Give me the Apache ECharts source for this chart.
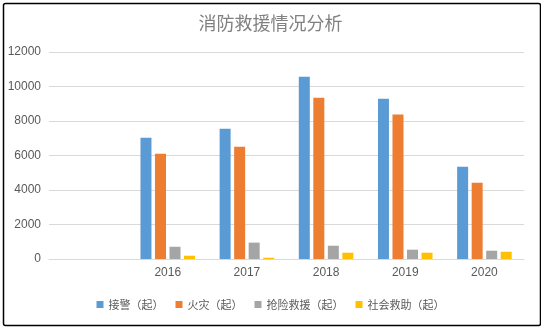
<!DOCTYPE html>
<html><head><meta charset="utf-8">
<script src="https://cdn.jsdelivr.net/npm/echarts@6/dist/echarts.min.js"></script>
<style>html,body{margin:0;padding:0;background:#fff}#c{width:541px;height:327px}</style>
</head><body><div id="c"></div>
<script>
const categories = ['', '2016', '2017', '2018', '2019', '2020'];
const seriesNames = ['接警（起）', '火灾（起）', '抢险救援（起）', '社会救助（起）'];
const alarms = [null, 7030, 7550, 10570, 9290, 5350];
const fires = [null, 6100, 6510, 9350, 8370, 4420];
const rescues = [null, 710, 950, 770, 540, 480];
const socialAid = [null, 190, 75, 365, 365, 420];
const yTicks = [0, 2000, 4000, 6000, 8000, 10000, 12000];
const colors = ['#5b9bd5', '#ed7d31', '#a5a5a5', '#ffc000'];

const chart = echarts.init(document.getElementById('c'), null, {renderer: 'canvas'});
const font = '"Noto Sans CJK SC", "Noto Sans", sans-serif';
const vals = [alarms, fires, rescues, socialAid];
chart.setOption({
  animation: false,
  textStyle: {fontFamily: font},
  title: {
    text: '消防救援情况分析', left: 'center', top: 9,
    textStyle: {color: '#808080', fontSize: 18, fontWeight: 'normal', fontFamily: font}
  },
  graphic: [{
    type: 'rect', left: 1, top: 1, silent: true,
    shape: {width: 537, height: 322, r: 2},
    style: {fill: 'none', stroke: '#000', lineWidth: 1.5}
  }],
  legend: {
    bottom: 12, left: 'center', itemWidth: 7, itemHeight: 7, itemGap: 12,
    icon: 'rect',
    textStyle: {color: '#595959', fontSize: 11, fontFamily: font, padding: [0, 0, 0, 0]},
    data: seriesNames
  },
  grid: {left: 49, right: 17, top: 52, bottom: 68, containLabel: false},
  xAxis: {
    type: 'category', data: categories,
    axisLine: {lineStyle: {color: '#d9d9d9', width: 1}},
    axisTick: {show: false},
    axisLabel: {color: '#595959', fontSize: 12, margin: 8, fontFamily: 'Liberation Sans, sans-serif'}
  },
  yAxis: {
    type: 'value', min: yTicks[0], max: yTicks[yTicks.length - 1], interval: 2000,
    axisLine: {show: false}, axisTick: {show: false},
    splitLine: {lineStyle: {color: '#d9d9d9', width: 1}},
    axisLabel: {color: '#595959', fontSize: 12, margin: 8, fontFamily: 'Liberation Sans, sans-serif',
      formatter: v => String(v)}
  },
  series: seriesNames.map((n, i) => ({
    name: n, type: 'bar', data: vals[i], barWidth: 11, barGap: '32%', barCategoryGap: '31%',
    itemStyle: {color: colors[i]}
  }))
});
</script></body></html>
